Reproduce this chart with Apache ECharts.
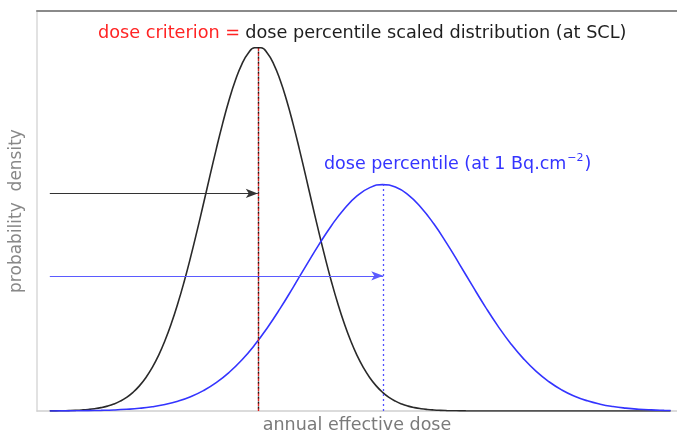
<!DOCTYPE html>
<html>
<head>
<meta charset="utf-8">
<script src="https://cdn.jsdelivr.net/npm/echarts@6/dist/echarts.min.js"></script>
<style>
  html, body { margin: 0; padding: 0; background: #fff; }
  #chart { width: 677px; height: 437px; }
</style>
</head>
<body>
<div id="chart"></div>
<script>
// scaled distribution at SCL (black): dose positions (0..100 across the plot) and density
var criterionDose = [2, 3, 4, 5, 6, 7, 8, 9, 10, 11, 12, 13, 14, 15, 16, 17, 18, 19, 20, 21,
                     22, 23, 24, 25, 26, 27, 28, 29, 30, 31, 32, 33, 34, 35, 36, 37, 38, 39, 40, 41,
                     42, 43, 44, 45, 46, 47, 48, 49, 50, 51, 52, 53, 54, 55, 56, 57, 58, 59, 60, 61,
                     62, 63, 64, 65, 66, 67, 68, 70, 80, 90, 99];
var criterionDensity = [0.02, 0.04, 0.06, 0.1, 0.16, 0.25, 0.38, 0.57, 0.84, 1.22, 1.74, 2.46, 3.41, 4.67, 6.28, 8.32, 10.85, 13.92, 17.61, 21.91,
                        26.85, 32.39, 38.46, 44.96, 51.74, 58.64, 65.42, 71.84, 77.69, 82.69, 86.67, 89.42, 90.82, 90.82, 89.42, 86.67, 82.69, 77.69, 71.84, 65.42,
                        58.64, 51.74, 44.96, 38.46, 32.39, 26.85, 21.91, 17.61, 13.92, 10.85, 8.32, 6.28, 4.67, 3.41, 2.46, 1.74, 1.22, 0.84, 0.57, 0.38,
                        0.25, 0.16, 0.1, 0.06, 0.04, 0.02, 0.01, 0, 0, 0, 0];
// dose percentile distribution at 1 Bq/cm2 (blue)
var percentileDose = [2, 4, 6, 8, 10, 12, 14, 16, 18, 20, 22, 24, 26, 28, 30, 32, 34, 36, 38, 40,
                      42, 44, 46, 48, 50, 52, 54, 56, 58, 60, 62, 64, 66, 68, 70, 72, 74, 76, 78, 80,
                      82, 84, 86, 88, 90, 92, 94, 96, 98, 99];
var percentileDensity = [0.01, 0.03, 0.05, 0.09, 0.15, 0.25, 0.42, 0.67, 1.06, 1.63, 2.44, 3.57, 5.09, 7.08, 9.62, 12.75, 16.49, 20.83, 25.66, 30.86,
                         36.21, 41.46, 46.33, 50.52, 53.77, 55.84, 56.6, 55.98, 54.04, 50.89, 46.79, 41.97, 36.74, 31.39, 26.17, 21.29, 16.9, 13.1, 9.9, 7.31,
                         5.26, 3.7, 2.54, 1.7, 1.11, 0.71, 0.44, 0.27, 0.16, 0.12];
var criterionX = 34.5, criterionPeak = 91;
var percentileX = 54.1, percentilePeak = 56.6;
var arrowStart = 2;
var criterionArrowY = 54.4, percentileArrowY = 33.8;

var chart = echarts.init(document.getElementById('chart'));

function pairs(xs, ys) {
    return xs.map(function (x, i) { return [x, ys[i]]; });
}

var FONT = 'DejaVu Sans';

var option = {
    animation: false,
    title: [{
        text: '{r|dose criterion =} {k|dose percentile scaled distribution (at SCL)}',
        left: 93,
        top: 19,
        textStyle: {
            fontWeight: 'normal',
            rich: {
                r: { color: '#ff2424', fontSize: 17.7, fontFamily: FONT },
                k: { color: '#1e1e1e', fontSize: 17.7, fontFamily: FONT }
            }
        }
    }, {
        text: '{t|dose percentile (at 1 Bq.cm}{s|−2}{t|)}',
        left: 319,
        top: 148,
        textStyle: {
            fontWeight: 'normal',
            rich: {
                t: { color: '#3434ff', fontSize: 17.5, fontFamily: FONT, lineHeight: 22 },
                s: { color: '#3434ff', fontSize: 11, fontFamily: FONT, lineHeight: 22, verticalAlign: 'top', padding: [0, 1, 9, 1] }
            }
        }
    }],
    grid: { left: 37, right: 0, top: 11, bottom: 26, outerBoundsMode: 'none', containLabel: false },
    xAxis: [{
        type: 'value',
        min: 0,
        max: 100,
        name: 'annual effective dose',
        nameLocation: 'middle',
        nameGap: 5,
        nameTextStyle: { color: '#7a7a7a', fontSize: 17.5, fontFamily: FONT, verticalAlign: 'top' },
        axisLine: { lineStyle: { color: '#cfcfcf', width: 1.5 } },
        axisTick: { show: false },
        axisLabel: { show: false },
        splitLine: { show: false }
    }, {
        type: 'value',
        position: 'top',
        min: 0,
        max: 100,
        axisLine: { lineStyle: { color: '#8a8a8a', width: 2 } },
        axisTick: { show: false },
        axisLabel: { show: false },
        splitLine: { show: false }
    }],
    yAxis: {
        type: 'value',
        min: 0,
        max: 100,
        name: 'probability  density',
        nameLocation: 'middle',
        nameRotate: 90,
        nameGap: 12,
        nameTextStyle: { color: '#888', fontSize: 17, fontFamily: FONT },
        axisLine: { show: true, lineStyle: { color: '#d8d8d8', width: 1.5 } },
        axisTick: { show: false },
        axisLabel: { show: false },
        splitLine: { show: false }
    },
    series: [{
        name: 'dose criterion',
        type: 'line',
        smooth: true,
        symbol: 'none',
        data: pairs(criterionDose, criterionDensity),
        lineStyle: { color: '#2a2a2a', width: 1.6 },
        markLine: {
            silent: true,
            symbol: ['none', 'none'],
            label: { show: false },
            data: [
                [{ coord: [criterionX, 0], lineStyle: { color: '#e02020', width: 1.4, type: [3, 2] } },
                 { coord: [criterionX, criterionPeak] }],
                [{ coord: [criterionX, 0], lineStyle: { color: '#1a1a1a', width: 1.4, type: [2, 3], dashOffset: 2.5 } },
                 { coord: [criterionX, criterionPeak] }],
                [{ coord: [arrowStart, criterionArrowY], symbol: 'none', lineStyle: { color: '#333', width: 1, type: 'solid' } },
                 { coord: [criterionX, criterionArrowY], symbol: 'arrow', symbolSize: [7, 12] }]
            ]
        }
    }, {
        name: 'dose percentile',
        type: 'line',
        smooth: true,
        symbol: 'none',
        data: pairs(percentileDose, percentileDensity),
        lineStyle: { color: '#3434ff', width: 1.6 },
        markLine: {
            silent: true,
            symbol: ['none', 'none'],
            label: { show: false },
            data: [
                [{ coord: [percentileX, 0], lineStyle: { color: '#5050ff', width: 1.3, type: [2, 3] } },
                 { coord: [percentileX, percentilePeak] }],
                [{ coord: [arrowStart, percentileArrowY], symbol: 'none', lineStyle: { color: '#5b5bff', width: 1, type: 'solid' } },
                 { coord: [percentileX, percentileArrowY], symbol: 'arrow', symbolSize: [7, 12] }]
            ]
        }
    }]
};
chart.setOption(option);
</script>
</body>
</html>
